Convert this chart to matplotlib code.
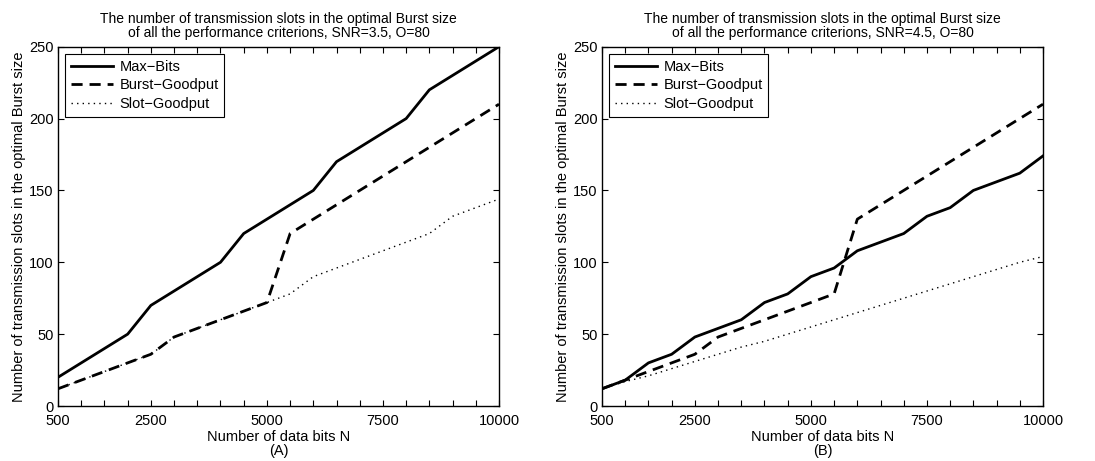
import matplotlib
matplotlib.use("Agg")
import matplotlib.pyplot as plt
import numpy as np

plt.rcParams['font.family'] = ['Liberation Sans', 'DejaVu Sans']

# data bits N (one point every 500 bits)
bits = np.arange(500, 10001, 500)

# panel A: SNR=3.5
max_bits_a = [20, 30, 40, 50, 70, 80, 90, 100, 120, 130,
              140, 150, 170, 180, 190, 200, 220, 230, 240, 250]
burst_a = [12, 18, 24, 30, 36, 48, 54, 60, 66, 72,
           120, 130, 140, 150, 160, 170, 180, 190, 200, 210]
slot_a = [12, 18, 24, 30, 36, 48, 54, 60, 66, 72,
          78, 90, 96, 102, 108, 114, 120, 132, 138, 144]

# panel B: SNR=4.5
max_bits_b = [12, 18, 30, 36, 48, 54, 60, 72, 78, 90,
              96, 108, 114, 120, 132, 138, 150, 156, 162, 174]
burst_b = [12, 18, 24, 30, 36, 48, 54, 60, 66, 72,
           78, 130, 140, 150, 160, 170, 180, 190, 200, 210]
slot_b = [12, 17, 21, 26, 31, 36, 41, 45, 50, 55,
          60, 65, 70, 75, 80, 85, 90, 95, 100, 104]

xtick_labels = {500: "500", 2500: "2500", 5000: "5000", 7500: "7500", 10000: "10000"}

panels = [
    ("A", "3.5", max_bits_a, burst_a, slot_a),
    ("B", "4.5", max_bits_b, burst_b, slot_b),
]

fig = plt.figure(figsize=(10.95, 4.61), dpi=100)
lefts = [0.053, 0.5498]

for (tag, snr, mb, bg, sg), left in zip(panels, lefts):
    ax = fig.add_axes([left, 0.1193, 0.4027, 0.7794])
    ax.plot(bits, mb, color="black", lw=2.0, ls="-", label="Max\u2212Bits")
    ax.plot(bits, bg, color="black", lw=2.0, ls=(0, (4, 2.5)), label="Burst\u2212Goodput")
    ax.plot(bits, sg, color="black", lw=1.0, ls=(0, (1, 3)), label="Slot\u2212Goodput")

    ax.set_xlim(500, 10000)
    ax.set_ylim(0, 250)
    ax.set_xticks(bits)
    ax.set_xticklabels([xtick_labels.get(int(b), "") for b in bits])
    ax.set_yticks(np.arange(0, 251, 50))
    ax.tick_params(direction="in", top=True, right=True, length=4, width=0.8,
                   labelsize=10.5)
    ax.tick_params(axis="x", pad=6)
    ax.tick_params(axis="y", pad=3)
    for sp in ax.spines.values():
        sp.set_linewidth(1.0)

    ax.set_title("The number of transmission slots in the optimal Burst size\n"
                 "of all the performance criterions, SNR=%s, O=80" % snr,
                 fontsize=10, linespacing=1.0, pad=7)
    ax.set_xlabel("Number of data bits N\n(%s)" % tag, fontsize=10.5,
                  linespacing=1.05, labelpad=1)
    ax.set_ylabel("Number of transmission slots in the optimal Burst size",
                  fontsize=10.5, labelpad=2)

    leg = ax.legend(loc="upper left", fontsize=10.5, frameon=True, fancybox=False,
                    edgecolor="black", framealpha=1, handlelength=2.9,
                    handletextpad=0.4, borderpad=0.4, labelspacing=0.32,
                    borderaxespad=0.5)
    leg.get_frame().set_linewidth(0.8)

fig.savefig("out.png", dpi=100)
